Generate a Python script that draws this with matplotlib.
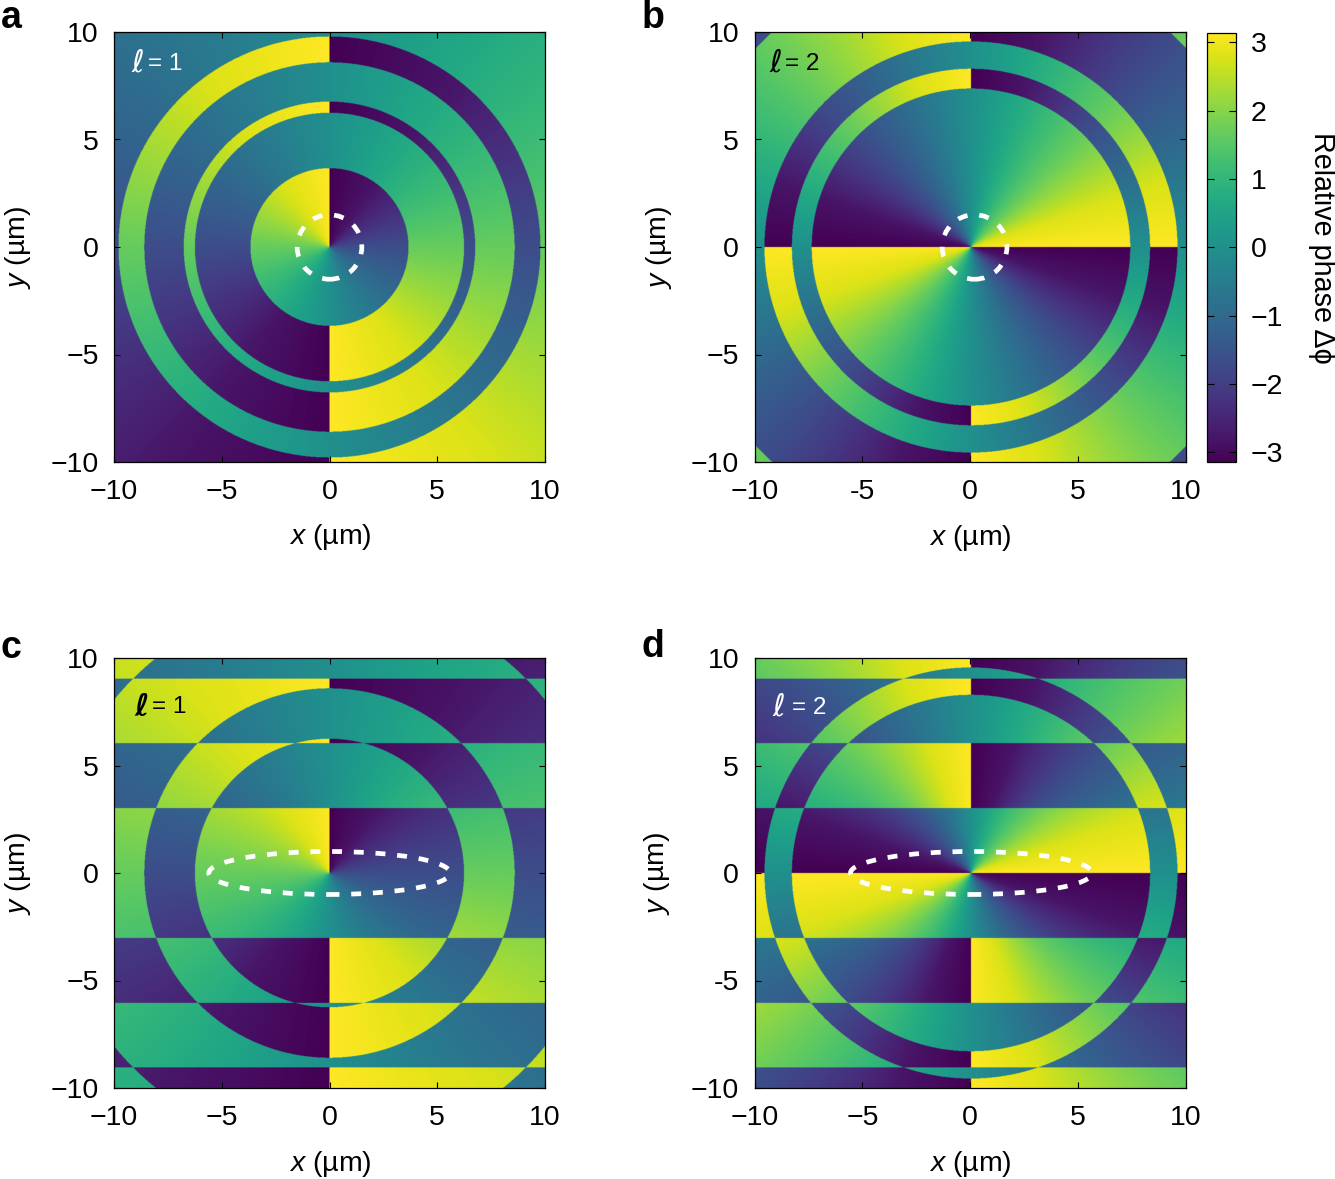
import numpy as np
import matplotlib
matplotlib.use("Agg")
import matplotlib.pyplot as plt
from matplotlib.patches import Ellipse

plt.rcParams['font.family'] = ['Liberation Sans', 'DejaVu Sans']
plt.rcParams['mathtext.fontset'] = 'custom'
plt.rcParams['mathtext.rm'] = 'Liberation Sans'
plt.rcParams['mathtext.it'] = 'Liberation Sans:italic'

W, H = 1335, 1179

panel_names = ['a', 'b', 'c', 'd']
charges = [1, 2, 1, 2]
ring_edges = [
    [3.67, 6.25, 6.77, 8.6, 9.8],
    [7.38, 8.3, 9.57, 13.6],
    [6.25, 8.6, 12.85],
    [8.3, 9.57],
]
strip_edges = [
    [],
    [],
    [3.03, 6.05, 9.05],
    [3.03, 6.05, 9.05],
]
phase_offsets = [-np.pi, 0.0, -np.pi, 0.0]
# ideal phase -> phase (flatter near +/- pi)
phase_in = [-3.1416, -2.5, -1.6, 0.0, 1.6, 2.5, 3.1416]
phase_out = [-3.1416, -2.8, -1.7, 0.0, 1.7, 2.8, 3.1416]
ellipse_semi_x = [1.5, 1.5, 5.6, 5.6]
ellipse_semi_y = [1.5, 1.5, 1.0, 1.0]
ellipse_center_x = [0.0, 0.2, 0.0, 0.05]
label_colors = ['white', 'black', 'black', 'white']

ticks = [-10, -5, 0, 5, 10]
x_tick_labels = [
    ['−10', '−5', '0', '5', '10'],
    ['−10', '-5', '0', '5', '10'],
    ['−10', '−5', '0', '5', '10'],
    ['−10', '−5', '0', '5', '10'],
]
y_tick_labels = [
    ['−10', '−5', '0', '5', '10'],
    ['−10', '−5', '0', '5', '10'],
    ['−10', '−5', '0', '5', '10'],
    ['−10', '-5', '0', '5', '10'],
]
cbar_ticks = [-3, -2, -1, 0, 1, 2, 3]
cbar_labels = ['−3', '−2', '−1', '0', '1', '2', '3']

# pixel boxes: left, right, top, bottom
boxes = [(114, 545, 32, 462), (754.5, 1186, 32, 462),
         (114, 545, 658, 1088), (754.5, 1186, 658, 1088)]
letter_pos = [(11, 18), (653, 18), (11, 648), (653, 647)]
ell_pos = [(131, 63), (769, 63), (134, 707), (772, 707)]
rest_pos = [(148, 64), (785, 64), (152, 707), (792, 708)]
ell_weight = ['normal', 'normal', 'bold', 'normal']
xlabel_pos = [(330, 537), (970, 538), (330, 1164), (970, 1164)]
ylabel_pos = [(18, 247), (659, 247), (18, 873), (657, 873)]


def rect(l, r, t, b):
    return [l / W, 1 - b / H, (r - l) / W, (b - t) / H]


def phase_map(l, rings, strips, offset, n=1000):
    c = np.linspace(-10, 10, n)
    X, Y = np.meshgrid(c, c)
    theta = np.mod(np.arctan2(X, Y), 2 * np.pi)
    flips = np.searchsorted(rings, np.hypot(X, Y)) + np.searchsorted(strips, np.abs(Y))
    phi = l * theta + offset + np.pi * (flips % 2)
    phi = np.mod(phi + np.pi, 2 * np.pi) - np.pi
    return np.interp(phi, phase_in, phase_out)


fig = plt.figure(figsize=(W / 100, H / 100), dpi=100)
FS = 20.5
im = None
for i in range(4):
    ax = fig.add_axes(rect(*boxes[i]))
    field = phase_map(charges[i], ring_edges[i], strip_edges[i], phase_offsets[i])
    im = ax.imshow(field, origin='lower', extent=[-10, 10, -10, 10], cmap='viridis',
                   vmin=-np.pi, vmax=np.pi, interpolation='bilinear', aspect='auto')
    ax.set_xticks(ticks, x_tick_labels[i])
    ax.set_yticks(ticks, y_tick_labels[i])
    ax.tick_params(direction='in', top=True, right=True, length=4, width=0.8,
                   labelsize=FS, pad=11)
    ax.tick_params(axis='x', pad=12.5)
    for s in ax.spines.values():
        s.set_linewidth(0.9)
    ax.add_patch(Ellipse((ellipse_center_x[i], 0), 2 * ellipse_semi_x[i], 2 * ellipse_semi_y[i],
                         fill=False, ec='white', lw=3.4, ls=(0, (2.1, 2.5))))
    fig.text(letter_pos[i][0] / W, 1 - letter_pos[i][1] / H, panel_names[i], fontsize=27,
             fontweight='bold', ha='center', va='center')
    fig.text(ell_pos[i][0] / W, 1 - ell_pos[i][1] / H, 'ℓ', fontsize=22, style='italic',
             fontweight=ell_weight[i], family='DejaVu Sans',
             color=label_colors[i], ha='left', va='center')
    fig.text(rest_pos[i][0] / W, 1 - rest_pos[i][1] / H, f'= {charges[i]}', fontsize=17.5,
             color=label_colors[i], ha='left', va='center')
    fig.text(xlabel_pos[i][0] / W, 1 - xlabel_pos[i][1] / H, r'$\mathit{x}$ (µm)', fontsize=FS,
             ha='center', va='center')
    fig.text(ylabel_pos[i][0] / W, 1 - ylabel_pos[i][1] / H, r'$\mathit{y}$ (µm)', fontsize=FS,
             ha='center', va='center', rotation=90)

cax = fig.add_axes(rect(1207, 1236, 32.5, 462))
cb = fig.colorbar(im, cax=cax)
cb.set_ticks(cbar_ticks, labels=cbar_labels)
cax.tick_params(direction='in', left=True, right=True, length=5, width=0.8,
                labelsize=FS, pad=10.5)
cb.outline.set_linewidth(0.9)
fig.text(1322 / W, 1 - 248 / H, 'Relative phase Δϕ', fontsize=20.7, rotation=270,
         ha='center', va='center')

fig.savefig('out.png', dpi=100)
